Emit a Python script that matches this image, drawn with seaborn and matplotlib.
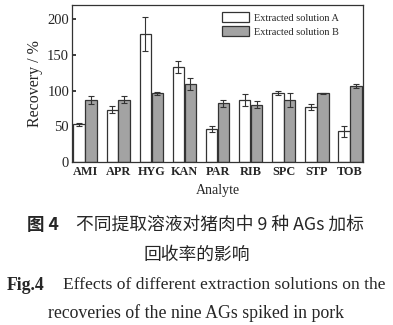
import matplotlib
matplotlib.use("Agg")
import matplotlib.pyplot as plt
import seaborn as sns
import pandas as pd
import numpy as np

analytes = ["AMI", "APR", "HYG", "KAN", "PAR", "RIB", "SPC", "STP", "TOB"]
solution_a = [53, 73, 179, 133, 46, 87, 97, 77, 43]
solution_a_err = [2, 5, 24, 8, 4, 8, 3, 4, 8]
solution_b = [87, 87, 96, 109, 82, 80, 87, 96, 106]
solution_b_err = [6, 5, 2, 8, 5, 5, 10, 1, 3]
series_names = ["Extracted solution A", "Extracted solution B"]

df = pd.DataFrame({
    "Analyte": analytes * 2,
    "Recovery": solution_a + solution_b,
    "err": solution_a_err + solution_b_err,
    "Series": [series_names[0]] * len(analytes) + [series_names[1]] * len(analytes),
})

sns.set_theme(style="ticks")
plt.rcParams["font.family"] = ["Liberation Serif", "DejaVu Serif"]

fig = plt.figure(figsize=(3.93, 3.25), dpi=100)
ax = fig.add_axes([0.183, 0.5015, 0.741, 0.4835])

sns.barplot(data=df, x="Analyte", y="Recovery", hue="Series", ax=ax,
            palette=["white", "#a3a3a3"], errorbar=None, width=0.72,
            edgecolor="#333333", linewidth=0.9, gap=0.03, legend=True)

# error bars at bar centres
for container, errs in zip(ax.containers, [solution_a_err, solution_b_err]):
    for patch, e in zip(container.patches, errs):
        xc = patch.get_x() + patch.get_width() / 2
        ax.errorbar(xc, patch.get_height(), yerr=e, color="#333333",
                    elinewidth=0.8, capsize=2.5, capthick=0.8)

ax.set_xlim(-0.4, 8.4)
ax.set_ylim(0, 220)
ax.set_yticks([0, 50, 100, 150, 200])
ax.tick_params(axis="y", labelsize=10.5, length=3, direction="in", pad=2)
ax.tick_params(axis="x", length=0, labelsize=8.8, pad=3)
for lab in ax.get_xticklabels():
    lab.set_fontweight("bold")
ax.set_xlabel("Analyte", fontsize=10, labelpad=4)
ax.set_ylabel("Recovery / %", fontsize=11.5, labelpad=3)
for sp in ax.spines.values():
    sp.set_visible(True)
    sp.set_color("#333333")
    sp.set_linewidth(0.9)

leg = ax.legend(loc="upper right", bbox_to_anchor=(0.93, 0.98), frameon=False,
                fontsize=7.4, handlelength=2.6, handleheight=1.1,
                borderaxespad=0.0, labelspacing=0.35, handletextpad=0.5)

cjk = ["Noto Sans CJK SC", "DejaVu Sans"]
fig.text(0.069, 1 - 225 / 325, "图 4", fontsize=12.6, family=cjk,
         fontweight="bold", va="center", ha="left")
fig.text(0.193, 1 - 225 / 325, "不同提取溶液对猪肉中 9 种 AGs 加标", fontsize=12.8,
         family=cjk, va="center", ha="left")
fig.text(0.5, 1 - 255 / 325, "回收率的影响", fontsize=12.8, family=cjk,
         va="center", ha="center")
fig.text(0.018, 1 - 285 / 325, "Fig.4", fontsize=12.8, fontweight="bold",
         va="center", ha="left")
fig.text(0.160, 1 - 285 / 325, "Effects of different extraction solutions on the",
         fontsize=12.6, va="center", ha="left")
fig.text(0.5, 1 - 313 / 325, "recoveries of the nine AGs spiked in pork",
         fontsize=12.8, va="center", ha="center")

fig.savefig("out.png", dpi=100)
